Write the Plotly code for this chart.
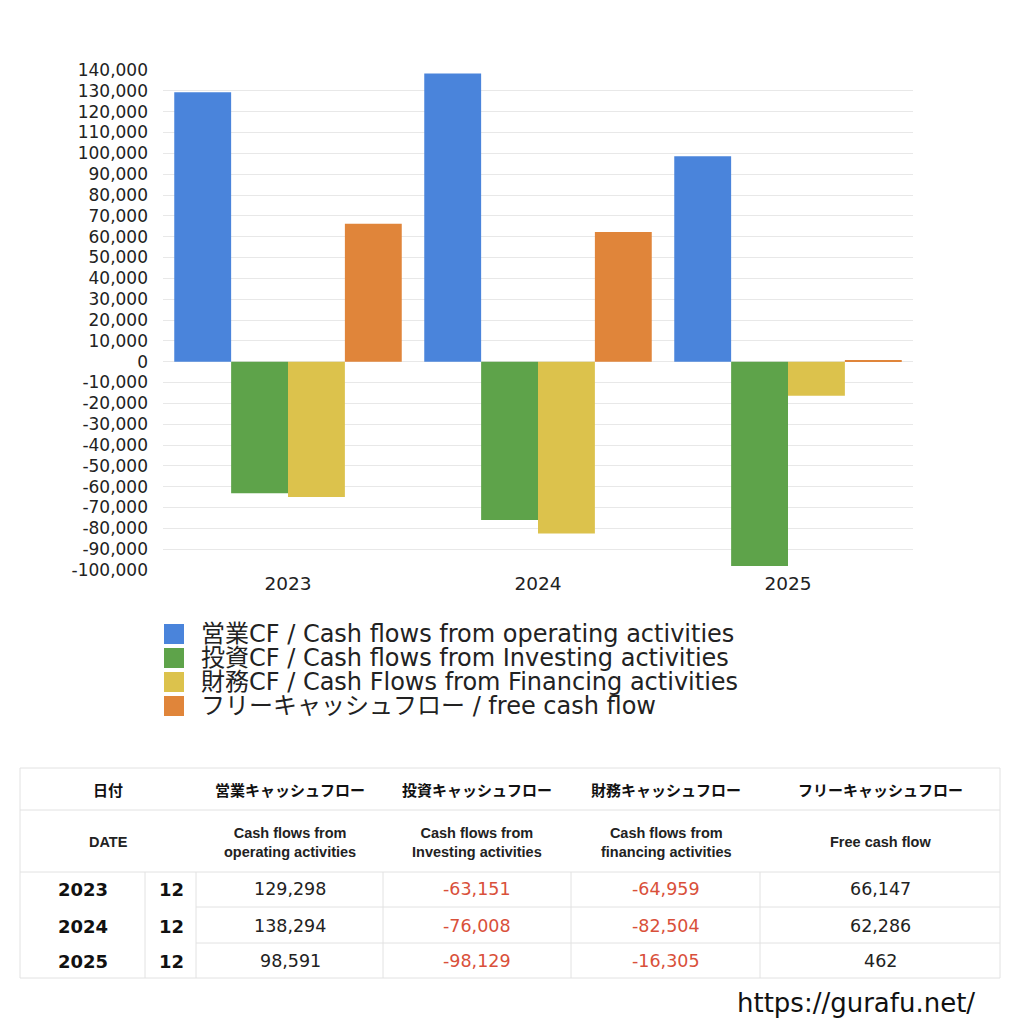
import plotly.graph_objects as go

years = ["2023", "2024", "2025"]
months = ["12", "12", "12"]
operating_cf = [129298, 138294, 98591]
investing_cf = [-63151, -76008, -98129]
financing_cf = [-64959, -82504, -16305]
free_cf = [66147, 62286, 462]

series_names = [
    "営業CF / Cash flows from operating activities",
    "投資CF / Cash flows from Investing activities",
    "財務CF / Cash Flows from Financing activities",
    "フリーキャッシュフロー / free cash flow",
]
series_colors = ["#4a84db", "#5ea34a", "#dcc24c", "#e0853a"]

header_jp = ["日付", "営業キャッシュフロー", "投資キャッシュフロー", "財務キャッシュフロー", "フリーキャッシュフロー"]
header_en = ["DATE", "Cash flows from<br>operating activities", "Cash flows from<br>Investing activities",
             "Cash flows from<br>financing activities", "Free cash flow"]

ytick_vals = list(range(-100000, 140001, 10000))
ytick_text = [f"{v:,}" for v in ytick_vals]

W = H = 1024
def px(x):
    return x / W
def py(y):
    return 1 - y / H

FONT = "DejaVu Sans, Noto Sans CJK JP, sans-serif"
CJK = "Noto Sans CJK JP, sans-serif"
HEAD_EN = "Liberation Sans, Arial, sans-serif"

fig = go.Figure()
for name, vals, col in zip(series_names, [operating_cf, investing_cf, financing_cf, free_cf], series_colors):
    fig.add_trace(go.Bar(x=years, y=vals, name=name, showlegend=False,
                         marker=dict(color=col, line=dict(width=0))))

fig.update_layout(
    width=W, height=H,
    margin=dict(l=0, r=0, t=0, b=0, autoexpand=False),
    paper_bgcolor="white", plot_bgcolor="white",
    barmode="group", bargap=0.09, bargroupgap=0,
    font=dict(family=FONT, color="#222222"),
    xaxis=dict(domain=[px(163), px(913)], showgrid=False, showline=False, ticks="",
               tickfont=dict(size=18.5, color="#222222"), automargin=False),
    yaxis=dict(domain=[py(570), py(70)], range=[-100000, 140000], tickvals=ytick_vals, ticktext=ytick_text,
               showgrid=True, gridcolor="#e8e8e8", gridwidth=1, zeroline=False, showline=False,
               tickfont=dict(size=17, color="#222222"), ticks="", ticklabelstandoff=14, automargin=False),
    showlegend=False,
)

shapes = []
ann = []

# manual legend
leg_y = [634, 658, 682, 706]
for name, col, ly in zip(series_names, series_colors, leg_y):
    shapes.append(dict(type="rect", xref="paper", yref="paper", x0=px(164), x1=px(184),
                       y0=py(ly + 10), y1=py(ly - 10), fillcolor=col, line=dict(width=0)))
    ann.append(dict(x=px(199), y=py(ly), xref="paper", yref="paper", text=name, showarrow=False,
                    xanchor="left", yanchor="middle", font=dict(size=24, color="#222222", family=FONT)))

# table
line_col = "#e2e2e2"
L, R = 20, 1000
top, h1, h2, bottom = 768, 810, 872, 978
row_lines = [907, 943]
vcols = [145, 196, 383, 571, 760]
def hline(x0, x1, y):
    shapes.append(dict(type="line", xref="paper", yref="paper", x0=px(x0), x1=px(x1), y0=py(y), y1=py(y),
                       line=dict(color=line_col, width=1)))
def vline(x, y0, y1):
    shapes.append(dict(type="line", xref="paper", yref="paper", x0=px(x), x1=px(x), y0=py(y0), y1=py(y1),
                       line=dict(color=line_col, width=1)))
for y in [top, h1, h2, bottom]:
    hline(L, R, y)
for y in row_lines:
    hline(vcols[1], R, y)
vline(L, top, bottom)
vline(R, top, bottom)
for x in vcols:
    vline(x, h2, bottom)

def text(x, y, s, size, color="#111111", family=FONT, weight="normal"):
    ann.append(dict(x=px(x), y=py(y), xref="paper", yref="paper", text=s,
                    showarrow=False, xanchor="center", yanchor="middle",
                    font=dict(size=size, color=color, family=family, weight=weight)))

col_centers = [108, 290, 477, 666, 880]
for cx, s in zip(col_centers, header_jp):
    text(cx, 789, s, 15, family=CJK, weight="bold")
for cx, s in zip(col_centers, header_en):
    text(cx, 842, s, 14.5, color="#222222", family=HEAD_EN, weight="bold")
row_centers = [889, 926, 961]
val_centers = [290, 477, 666, 880]
for i, ry in enumerate(row_centers):
    text(83, ry, years[i], 18, weight="bold")
    text(171, ry, months[i], 18, weight="bold")
    for cx, arr in zip(val_centers, [operating_cf, investing_cf, financing_cf, free_cf]):
        v = arr[i]
        text(cx, ry, f"{v:,}", 17.5, color=("#d9503a" if v < 0 else "#222222"))

text(856, 1003, "https://gurafu.net/", 26, color="#111111")

fig.update_layout(shapes=shapes, annotations=ann)
fig.write_html("out.html")
